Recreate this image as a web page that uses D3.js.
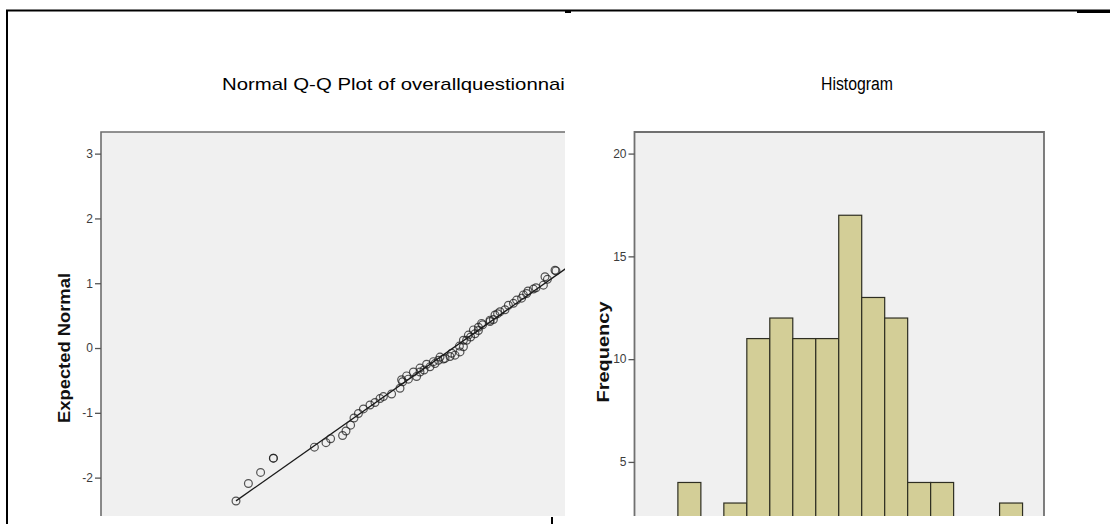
<!DOCTYPE html>
<html>
<head>
<meta charset="utf-8">
<script src="https://cdn.jsdelivr.net/npm/d3@7"></script>
<style>
  body { margin: 0; background: #fff; }
  svg { display: block; font-family: Arial, "Liberation Sans", sans-serif; }
  .axis .domain { display: none; }
  .axis .tick line { stroke: #555; stroke-width: 1.3; }
  .axis .tick text { fill: #3c3c3c; font-size: 12px; }
  .title { font-size: 17px; fill: #000; }
  .label { font-size: 16px; font-weight: bold; fill: #111; }
</style>
</head>
<body>
<svg id="chart" width="1110" height="524"></svg>
<script>
// Q-Q plot: observed score and its expected normal value
const qqObserved = [
  2.175, 2.237, 2.298, 2.362, 2.362, 2.567, 2.625, 2.648, 2.708, 2.725,
  2.748, 2.765, 2.787, 2.812, 2.845, 2.870, 2.895, 2.912, 2.953, 2.995,
  3.003, 3.008, 3.028, 3.037, 3.062, 3.078, 3.095, 3.095, 3.115, 3.128,
  3.145, 3.162, 3.170, 3.187, 3.195, 3.212, 3.220, 3.245, 3.253, 3.270,
  3.292, 3.295, 3.312, 3.312, 3.328, 3.337, 3.348, 3.362, 3.370, 3.387,
  3.387, 3.403, 3.408, 3.445, 3.445, 3.462, 3.470, 3.483, 3.495, 3.520,
  3.537, 3.562, 3.578, 3.603, 3.612, 3.628, 3.635, 3.662, 3.675, 3.712,
  3.720, 3.732, 3.770, 3.775, 3.850, 3.930, 4.020, 4.150, 4.350
];
const qqExpected = [
  -2.36, -2.09, -1.92, -1.70, -1.70, -1.53, -1.46, -1.40, -1.35, -1.28,
  -1.19, -1.08, -1.01, -0.94, -0.88, -0.84, -0.78, -0.75, -0.71, -0.62,
  -0.49, -0.52, -0.43, -0.48, -0.37, -0.44, -0.37, -0.31, -0.34, -0.25,
  -0.29, -0.21, -0.24, -0.19, -0.14, -0.17, -0.16, -0.13, -0.08, -0.11,
  0.03, -0.06, 0.02, 0.12, 0.12, 0.20, 0.17, 0.28, 0.22, 0.27,
  0.32, 0.38, 0.36, 0.41, 0.43, 0.44, 0.51, 0.53, 0.56, 0.59,
  0.66, 0.69, 0.74, 0.77, 0.82, 0.84, 0.88, 0.91, 0.93, 0.97,
  1.10, 1.06, 1.20, 1.19, 1.32, 1.48, 1.66, 1.90, 2.35
];
// reference line of the normal distribution
const qqLineMean = 3.26;
const qqLineSd = 0.46;
const qqTicks = [-2, -1, 0, 1, 2, 3];

// Histogram bins
const histEdges = [2.10, 2.25, 2.40, 2.55, 2.70, 2.85, 3.00, 3.15, 3.30,
                   3.45, 3.60, 3.75, 3.90, 4.05, 4.20, 4.35];
const histCounts = [4, 0, 3, 11, 12, 11, 11, 17, 13, 12, 4, 4, 0, 0, 3];
const histTicks = [5, 10, 15, 20];

const svg = d3.select("#chart");
const defs = svg.append("defs");
const clipBottom = 516;

defs.append("clipPath").attr("id", "qq-clip")
  .append("rect").attr("x", 0).attr("y", 0).attr("width", 565).attr("height", clipBottom);
defs.append("clipPath").attr("id", "hist-clip")
  .append("rect").attr("x", 560).attr("y", 0).attr("width", 550).attr("height", clipBottom);

// ---------- Q-Q plot ----------
const qq = { left: 101, top: 132, right: 701, bottom: 640 };

const qqX = d3.scaleLinear().domain([1.5, 4.5]).range([qq.left, qq.right]);
const qqY = d3.scaleLinear().domain([-2.6, 3.34]).range([516.5, 131.6]);

const qqG = svg.append("g").attr("clip-path", "url(#qq-clip)");

qqG.append("rect")
  .attr("x", qq.left).attr("y", qq.top)
  .attr("width", qq.right - qq.left).attr("height", qq.bottom - qq.top)
  .attr("fill", "#f0f0f0");

qqG.append("path")
  .attr("d", `M${qq.left},${qq.bottom}V${qq.top}H${qq.right}`)
  .attr("fill", "none").attr("stroke", "#6e6e6e").attr("stroke-width", 1.6);

// plain hyphen minus like the SPSS output
qqG.append("g")
  .attr("class", "axis")
  .attr("transform", `translate(${qq.left},0)`)
  .call(d3.axisLeft(qqY).tickValues(qqTicks).tickFormat(d => String(d))
    .tickSize(6).tickPadding(2).tickSizeOuter(0));

const xMin = d3.min(qqObserved), xMax = d3.max(qqObserved);
qqG.append("line")
  .attr("x1", qqX(xMin)).attr("y1", qqY((xMin - qqLineMean) / qqLineSd))
  .attr("x2", qqX(xMax)).attr("y2", qqY((xMax - qqLineMean) / qqLineSd))
  .attr("stroke", "#1a1a1a").attr("stroke-width", 1.3);

qqG.selectAll(".pt")
  .data(qqObserved)
  .enter()
  .append("circle")
  .attr("class", "pt")
  .attr("cx", d => qqX(d))
  .attr("cy", (d, i) => qqY(qqExpected[i]))
  .attr("r", 3.9)
  .attr("fill", "none")
  .attr("stroke", "#1e1e1e")
  .attr("stroke-opacity", 0.75)
  .attr("stroke-width", 1.2);

qqG.append("text")
  .attr("class", "title")
  .attr("x", 222).attr("y", 90)
  .attr("textLength", 361).attr("lengthAdjust", "spacingAndGlyphs")
  .text("Normal Q-Q Plot of overallquestionnaire");

svg.append("text")
  .attr("class", "label")
  .attr("transform", "translate(70,348) rotate(-90)")
  .attr("text-anchor", "middle")
  .attr("textLength", 150).attr("lengthAdjust", "spacingAndGlyphs")
  .text("Expected Normal");

// ---------- Histogram ----------
const hs = { left: 634.5, top: 132, right: 1044, bottom: 640 };

const hX = d3.scaleLinear().domain([1.82, 4.49]).range([635, 1044]);
const hY = d3.scaleLinear().domain([0, 21.05]).range([564.7, 132]);

const hG = svg.append("g").attr("clip-path", "url(#hist-clip)");

hG.append("rect")
  .attr("x", hs.left).attr("y", hs.top)
  .attr("width", hs.right - hs.left).attr("height", hs.bottom - hs.top)
  .attr("fill", "#f0f0f0");

const bins = histCounts
  .map((c, i) => ({ x0: histEdges[i], x1: histEdges[i + 1], count: c }))
  .filter(b => b.count > 0);

hG.selectAll(".bar")
  .data(bins)
  .enter()
  .append("rect")
  .attr("class", "bar")
  .attr("x", d => hX(d.x0))
  .attr("y", d => hY(d.count))
  .attr("width", d => hX(d.x1) - hX(d.x0))
  .attr("height", d => hY(0) - hY(d.count))
  .attr("fill", "#d3ce97")
  .attr("stroke", "#2e2e22")
  .attr("stroke-width", 1.2);

hG.append("path")
  .attr("d", `M${hs.left},${hs.bottom}V${hs.top}H${hs.right}V${hs.bottom}`)
  .attr("fill", "none").attr("stroke", "#707070").attr("stroke-width", 1.8);

hG.append("g")
  .attr("class", "axis")
  .attr("transform", `translate(${hs.left},0)`)
  .call(d3.axisLeft(hY).tickValues(histTicks).tickSize(6).tickPadding(2).tickSizeOuter(0));

svg.append("text")
  .attr("class", "title")
  .attr("x", 821).attr("y", 90)
  .attr("textLength", 72).attr("lengthAdjust", "spacingAndGlyphs")
  .style("font-size", "18px")
  .text("Histogram");

svg.append("text")
  .attr("class", "label")
  .attr("transform", "translate(609,352) rotate(-90)")
  .attr("text-anchor", "middle")
  .attr("textLength", 101).attr("lengthAdjust", "spacingAndGlyphs")
  .text("Frequency");

// ---------- outer frame ----------
const frame = svg.append("g").attr("stroke", "#000").attr("fill", "none");
frame.append("path").attr("d", "M7,524V10.5H1110").attr("stroke-width", 2);
frame.append("path").attr("d", "M1077,11.5H1110").attr("stroke-width", 3);
frame.append("path").attr("d", "M565,11.5H571").attr("stroke-width", 3);
frame.append("path").attr("d", "M552,517V524").attr("stroke-width", 2);
</script>
</body>
</html>
